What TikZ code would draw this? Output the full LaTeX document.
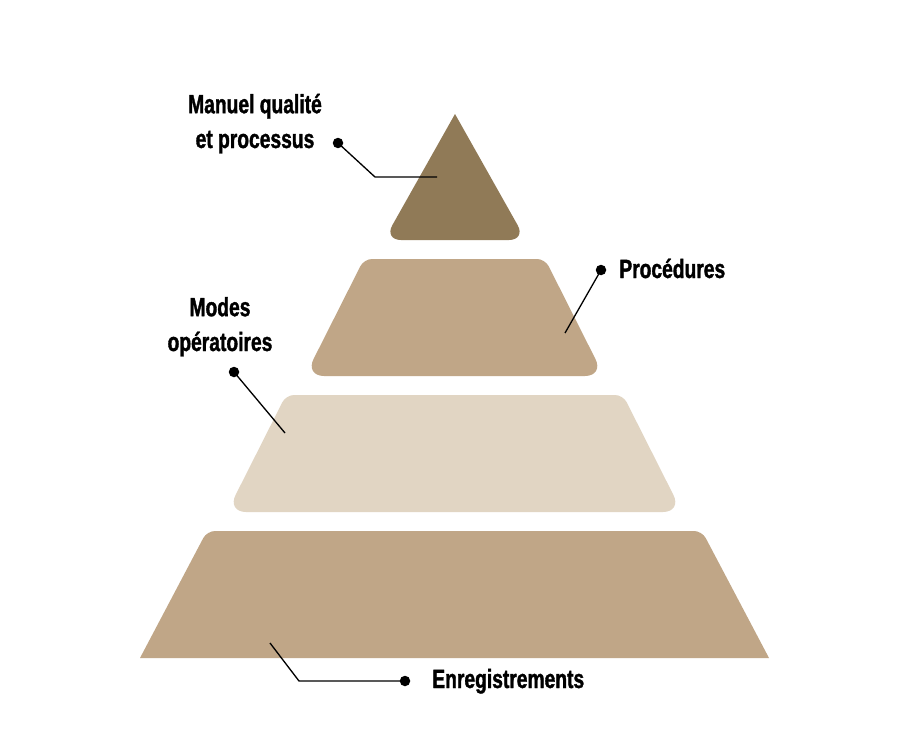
\documentclass[tikz,border=0pt]{standalone}
\usepackage{fontspec}
\setmainfont{Liberation Sans}[FakeStretch=0.73, BoldFeatures={FakeBold=1.3}]
\usetikzlibrary{positioning}

\definecolor{topbrown}{HTML}{907A57}
\definecolor{midbrown}{HTML}{C0A687}
\definecolor{lightbrown}{HTML}{E1D5C3}

\tikzset{
  foot/.style={rounded corners=0.38cm},
  shoulder/.style={rounded corners=0.16cm},
  dot/.style={circle, fill=black, inner sep=0pt, minimum size=0.21cm},
  lbl/.style={font=\fontsize{15}{19.8}\selectfont\bfseries, align=center, inner sep=0pt},
  lead/.style={line width=0.75pt}
}

\begin{document}
\begin{tikzpicture}[x=0.02cm, y=-0.02cm]
        \useasboundingbox[fill=white] (0,0) rectangle (919,750);
        \fill[topbrown, rounded corners=0.34cm] (455,114) -- (526,240) -- (384,240) -- (455,114);
        \fill[midbrown] (454.5,376) [foot] -- (305,376) [shoulder] -- (364,259) -- (545,259) [foot] -- (604,376) -- (454.5,376);
        \fill[lightbrown] (454.5,512) [foot] -- (227,512) [shoulder] -- (286,395) -- (623,395) [foot] -- (682,512) -- (454.5,512);
        \fill[midbrown, shoulder] (140,658) -- (207,531) -- (702,531) -- (769,658);

        \node[lbl, anchor=base] (manuel) at (255,148) {Manuel qualité\\et processus};
        \node[dot] (dmanuel) at (338,143) {};
        \coordinate (kmanuel) at (375,177);
        \coordinate (emanuel) at (437,177);
        \draw[lead] (dmanuel.center) -- (kmanuel) -- (emanuel);

        \node[lbl, anchor=base west] (proc) at (619,278) {Procédures};
        \node[dot] (dproc) at (601,270) {};
        \coordinate (eproc) at (565,333);
        \draw[lead] (dproc.center) -- (eproc);

        \node[lbl, anchor=base] (modes) at (220,351) {Modes\\opératoires};
        \node[dot] (dmodes) at (234,372) {};
        \coordinate (emodes) at (285,433);
        \draw[lead] (dmodes.center) -- (emodes);

        \node[lbl, anchor=base west] (enreg) at (432,688) {Enregistrements};
        \node[dot] (denreg) at (405,681) {};
        \coordinate (kenreg) at (299,681);
        \coordinate (eenreg) at (270,643);
        \draw[lead] (denreg.center) -- (kenreg) -- (eenreg);
\end{tikzpicture}
\end{document}
